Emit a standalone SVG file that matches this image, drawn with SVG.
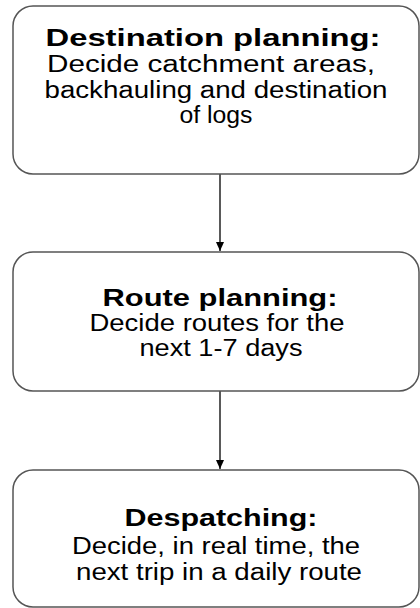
<svg xmlns="http://www.w3.org/2000/svg" width="420" height="608" viewBox="0 0 420 608">
<defs>
<marker id="arr" markerWidth="10" markerHeight="10" refX="9" refY="5" orient="auto" markerUnits="userSpaceOnUse">
<path d="M0,1 L9,5 L0,9 Z" fill="#000"/>
</marker>
<style>
.box{fill:#fff;stroke:#555;stroke-width:1.5}
.t{font-family:"Liberation Sans",Arial,sans-serif;font-size:23px;fill:#000;text-anchor:middle}
.b{font-weight:bold}
.c{stroke:#000;stroke-width:1.3;fill:none}
</style>
</defs>
<rect width="420" height="608" fill="#fff"/>
<g id="connectors">
<line class="c" x1="220" y1="174" x2="220" y2="251" marker-end="url(#arr)"/>
<line class="c" x1="220" y1="391" x2="220" y2="469" marker-end="url(#arr)"/>
</g>
<g id="destination">
<rect class="box" x="13" y="6" width="406" height="168" rx="20"/>
<text class="t b" x="213" y="46" textLength="335" lengthAdjust="spacingAndGlyphs">Destination planning:</text>
<text class="t" x="211" y="72" textLength="328" lengthAdjust="spacingAndGlyphs">Decide catchment areas,</text>
<text class="t" x="216" y="98" textLength="343" lengthAdjust="spacingAndGlyphs">backhauling and destination</text>
<text class="t" x="216" y="123" textLength="73" lengthAdjust="spacingAndGlyphs">of logs</text>
</g>
<g id="route">
<rect class="box" x="13" y="252" width="406" height="139" rx="20"/>
<text class="t b" x="220" y="306" textLength="235" lengthAdjust="spacingAndGlyphs">Route planning:</text>
<text class="t" x="217" y="331" textLength="255" lengthAdjust="spacingAndGlyphs">Decide routes for the</text>
<text class="t" x="221" y="356" textLength="163" lengthAdjust="spacingAndGlyphs">next 1-7 days</text>
</g>
<g id="despatching">
<rect class="box" x="13" y="470" width="406" height="137" rx="20"/>
<text class="t b" x="221" y="526" textLength="193" lengthAdjust="spacingAndGlyphs">Despatching:</text>
<text class="t" x="216" y="554" textLength="288" lengthAdjust="spacingAndGlyphs">Decide, in real time, the</text>
<text class="t" x="219" y="580" textLength="286" lengthAdjust="spacingAndGlyphs">next trip in a daily route</text>
</g>
</svg>
